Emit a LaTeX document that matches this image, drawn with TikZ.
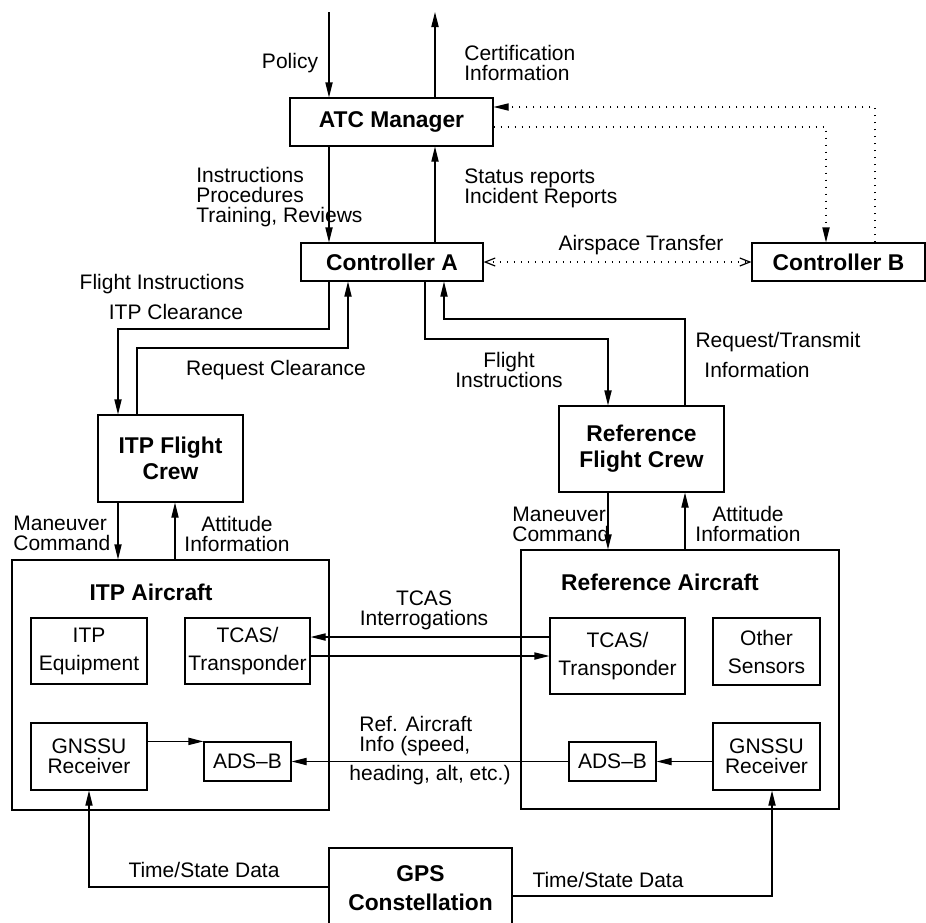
\documentclass[tikz,border=0pt]{standalone}
\usepackage{fontspec}
\setmainfont{Liberation Sans}
\usetikzlibrary{arrows.meta,calc}
\tikzset{blk/.style={draw,line width=.6pt,inner sep=1pt,align=center,font=\fontsize{11.4}{13}\selectfont\bfseries},
sub/.style={draw,line width=.6pt,inner sep=1pt,align=center,font=\fontsize{10.5}{14}\selectfont},
lbl/.style={inner sep=0pt,align=left,font=\fontsize{10.5}{10}\selectfont},
arr/.style={line width=.6pt,-{Triangle[length=7.5pt,width=3.6pt]}},
dotln/.style={line width=.7pt,dash pattern=on .7pt off 2.8pt}}

\begin{document}
\begin{tikzpicture}[x=.5pt,y=-.5pt]
\useasboundingbox (0,0) rectangle (926,922);
% main boxes
\node[blk,minimum width=101.5pt,minimum height=24pt] (atc) at (391.5,122) {ATC Manager};
\node[blk,minimum width=91pt,minimum height=19pt] (ca) at (392,262) {Controller A};
\node[blk,minimum width=86.5pt,minimum height=19pt] (cb) at (838.5,262) {Controller B};
\node[blk,minimum width=72.5pt,minimum height=43.5pt] (ic) at (170.5,458.5) {ITP Flight\\Crew};
\node[blk,minimum width=82.5pt,minimum height=43pt] (rc) at (641.5,449) {Reference\\Flight Crew};
\node[draw,line width=.6pt,minimum width=158.5pt,minimum height=125pt] (ia) at (170.5,685) {};
\node[draw,line width=.6pt,minimum width=159pt,minimum height=129.5pt] (ra) at (680,679.5) {};
\node[lbl,font=\fontsize{11.4}{13}\selectfont\bfseries] (iat) at (151,592) {ITP Aircraft};
\node[lbl,font=\fontsize{11.4}{13}\selectfont\bfseries] (rat) at (660,582) {Reference Aircraft};
\node[blk,minimum width=91.5pt,minimum height=40pt,font=\fontsize{11.4}{14.5}\selectfont\bfseries] (gps) at (420.5,888) {GPS\\Constellation};
% inner boxes
\node[sub,minimum width=58pt,minimum height=33pt] (ie) at (89,651) {ITP\\Equipment};
\node[sub,minimum width=62.5pt,minimum height=33pt] (it) at (247.5,651) {TCAS/\\Transponder};
\node[sub,minimum width=58pt,minimum height=33.5pt,font=\fontsize{10.5}{10}\selectfont] (ig) at (89,756.5) {GNSSU\\Receiver};
\node[sub,minimum width=43.5pt,minimum height=19.5pt] (id) at (247.5,761.5) {ADS--B};
\node[sub,minimum width=67.5pt,minimum height=38pt] (rt) at (617.5,656) {TCAS/\\Transponder};
\node[sub,minimum width=53.5pt,minimum height=33.5pt] (ro) at (766.5,651.5) {Other\\Sensors};
\node[sub,minimum width=43.5pt,minimum height=19.5pt] (rd) at (612.5,761.5) {ADS--B};
\node[sub,minimum width=53.5pt,minimum height=33.5pt,font=\fontsize{10.5}{10}\selectfont] (rg) at (766.5,756.5) {GNSSU\\Receiver};
% turning points
\coordinate (pol) at (329,12);
\coordinate (cert) at (435,12);
\coordinate (bup) at (875,107);
\coordinate (bdn) at (826,127);
\coordinate (icl) at (118,329);
\coordinate (icr) at (137,348);
\coordinate (car) at (348,348);
\coordinate (rcl) at (425,339);
\coordinate (rcd) at (608,339);
\coordinate (rcu) at (685,319);
\coordinate (rcr) at (444,319);
\coordinate (iup) at (175,0);
\coordinate (t1) at (0,637);
\coordinate (t2) at (0,656);
\coordinate (g1) at (89,887);
\coordinate (g2) at (772,896);
% connectors
\draw[arr] (pol) -- (pol |- atc.north);
\draw[arr] (atc.north -| cert) -- (cert);
\draw[arr] (atc.south -| pol) -- (ca.north -| pol);
\draw[arr] (ca.north -| cert) -- (atc.south -| cert);
\draw[dotln,arr] (cb.north -| bup) -- (bup) -- (atc.east |- bup);
\draw[dotln,arr] (atc.east |- bdn) -- (bdn) -- (cb.north -| bdn);
\draw[dotln,{Straight Barb[length=5pt,width=4pt,line width=.6pt]}-{Straight Barb[length=5pt,width=4pt,line width=.6pt]}] (ca.east) -- (cb.west);
\draw[arr] (ca.south -| pol) -- (pol |- icl) -- (icl) -- (icl |- ic.north);
\draw[arr] (ic.north -| icr) -- (icr) -- (car) -- (car |- ca.south);
\draw[arr] (ca.south -| rcl) -- (rcl) -- (rcd) -- (rcd |- rc.north);
\draw[arr] (rc.north -| rcu) -- (rcu) -- (rcr) -- (rcr |- ca.south);
\draw[arr] (ic.south -| icl) -- (ia.north -| icl);
\draw[arr] (ia.north -| iup) -- (ic.south -| iup);
\draw[arr] (rc.south -| rcd) -- (ra.north -| rcd);
\draw[arr] (ra.north -| rcu) -- (rc.south -| rcu);
\draw[arr] (rt.west |- t1) -- (it.east |- t1);
\draw[arr] (it.east |- t2) -- (rt.west |- t2);
\draw[arr] (ig.east |- id.north) -- (id.north west);
\draw[arr] (rd.west) -- (id.east);
\draw[arr] (rg.west |- rd) -- (rd.east);
\draw[arr] (gps.west |- g1) -- (g1) -- (g1 |- ig.south);
\draw[arr] (gps.east |- g2) -- (g2) -- (g2 |- rg.south);
% labels
\node[lbl] (l1) at (290,63) {Policy};
\node[lbl,anchor=west] (l2) at (464,63) {Certification\\Information};
\node[lbl,anchor=west] (l3) at (196,197) {Instructions\\Procedures\\Training, Reviews};
\node[lbl,anchor=west] (l4) at (464,188) {Status reports\\Incident Reports};
\node[lbl] (l5) at (641,245) {Airspace Transfer};
\node[lbl] (l6) at (162,284) {Flight Instructions};
\node[lbl] (l7) at (176,312) {ITP Clearance};
\node[lbl] (l8) at (276,370) {Request Clearance};
\node[lbl,anchor=west] (l9) at (13,533.5) {Maneuver\\Command};
\node[lbl,align=center] (l10) at (237,533.5) {Attitude\\Information};
\node[lbl,align=center] (l11) at (509,370) {Flight\\Instructions};
\node[lbl] (l12) at (778,342) {Request/Transmit};
\node[lbl] (l13) at (757,370) {Information};
\node[lbl,anchor=west] (l14) at (512,524) {Maneuver\\Command};
\node[lbl,align=center] (l15) at (748,524) {Attitude\\Information};
\node[lbl,align=center] (l16) at (424,610) {TCAS\\Interrogations};
\node[lbl,anchor=west] (l17) at (359,736) {Ref. Aircraft\\Info (speed,};
\node[lbl] (l18) at (430,775) {heading, alt, etc.)};
\node[lbl] (l19) at (204,870) {Time/State Data};
\node[lbl] (l20) at (608,880) {Time/State Data};
\end{tikzpicture}
\end{document}
